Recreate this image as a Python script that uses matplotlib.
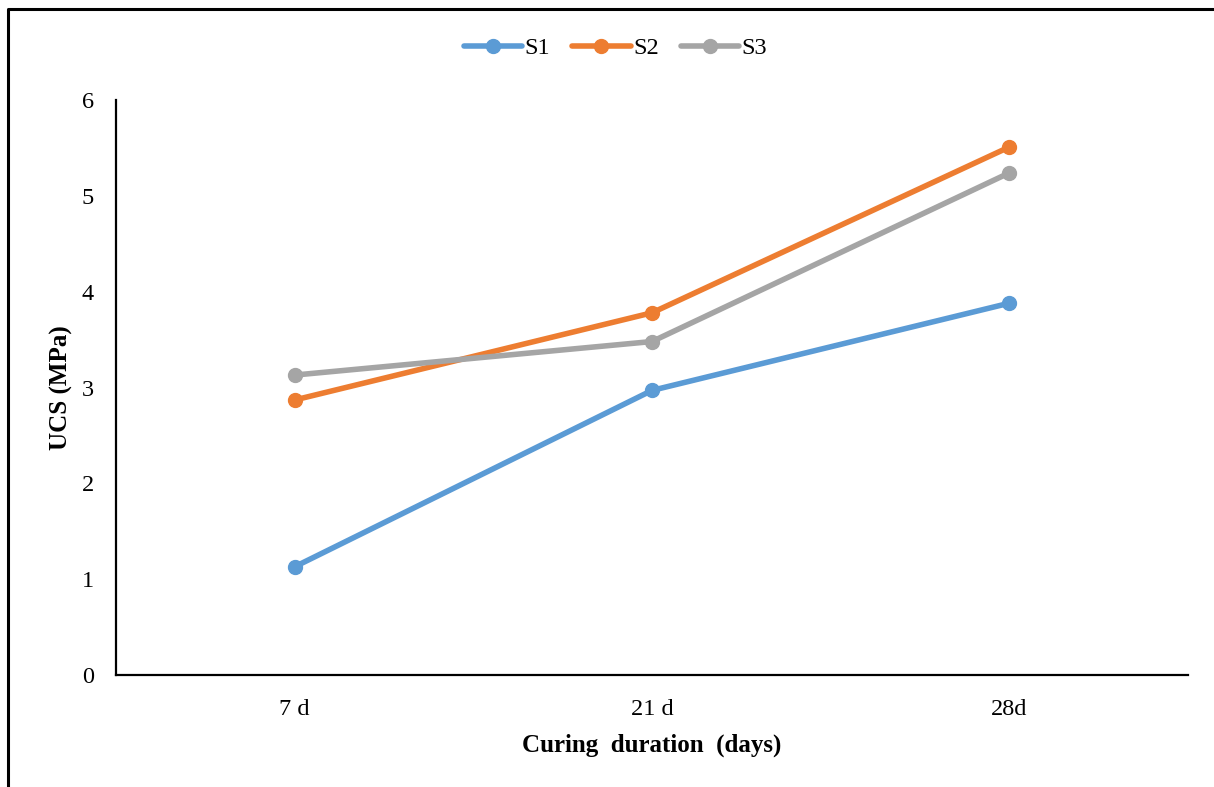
import matplotlib.pyplot as plt
from matplotlib.lines import Line2D

plt.rcParams['font.family'] = ['Liberation Serif', 'DejaVu Serif']

# UCS results for the three mixes
days = ['7 d', '21 d', '28d']
s1 = [1.13, 2.97, 3.88]
s2 = [2.87, 3.78, 5.51]
s3 = [3.13, 3.48, 5.24]
series = {'S1': s1, 'S2': s2, 'S3': s3}
colors = {'S1': '#5B9BD5', 'S2': '#ED7D31', 'S3': '#A5A5A5'}

fig = plt.figure(figsize=(12.14, 7.87), dpi=100)
ax = fig.add_axes([0.0956, 0.1423, 0.883, 0.7306])

x = range(len(days))
for name, vals in series.items():
    ax.plot(x, vals, color=colors[name], lw=4, marker='o', ms=10,
            solid_capstyle='round', label=name)

ax.set_xlim(-0.5, len(days) - 0.5)
ax.set_ylim(0, 6)
ax.set_yticks(range(0, 7))
ax.set_xticks(list(x))
ax.set_xticklabels(days)
ax.tick_params(axis='both', length=0, labelsize=17.5)
ax.tick_params(axis='y', pad=16)
ax.tick_params(axis='x', pad=17)

for side in ['top', 'right']:
    ax.spines[side].set_visible(False)
for side in ['left', 'bottom']:
    ax.spines[side].set_linewidth(1.6)
    ax.spines[side].set_color('black')

ax.set_xlabel('Curing  duration  (days)', fontsize=18, fontweight='bold', labelpad=10)
ax.set_ylabel('UCS (MPa)', fontsize=18, fontweight='bold', labelpad=6)

fig.legend(loc='center', bbox_to_anchor=(0.507, 0.939), ncol=3, frameon=False,
           fontsize=17.5, handlelength=2.4, handletextpad=0.1, columnspacing=0.9)

# border along the left and top edges
fig.add_artist(Line2D([8 / 1214, 8 / 1214, 1.0], [0.0, 1 - 9 / 787, 1 - 9 / 787],
                      transform=fig.transFigure, color='black', lw=2.2))

fig.savefig('out.png', dpi=100)
